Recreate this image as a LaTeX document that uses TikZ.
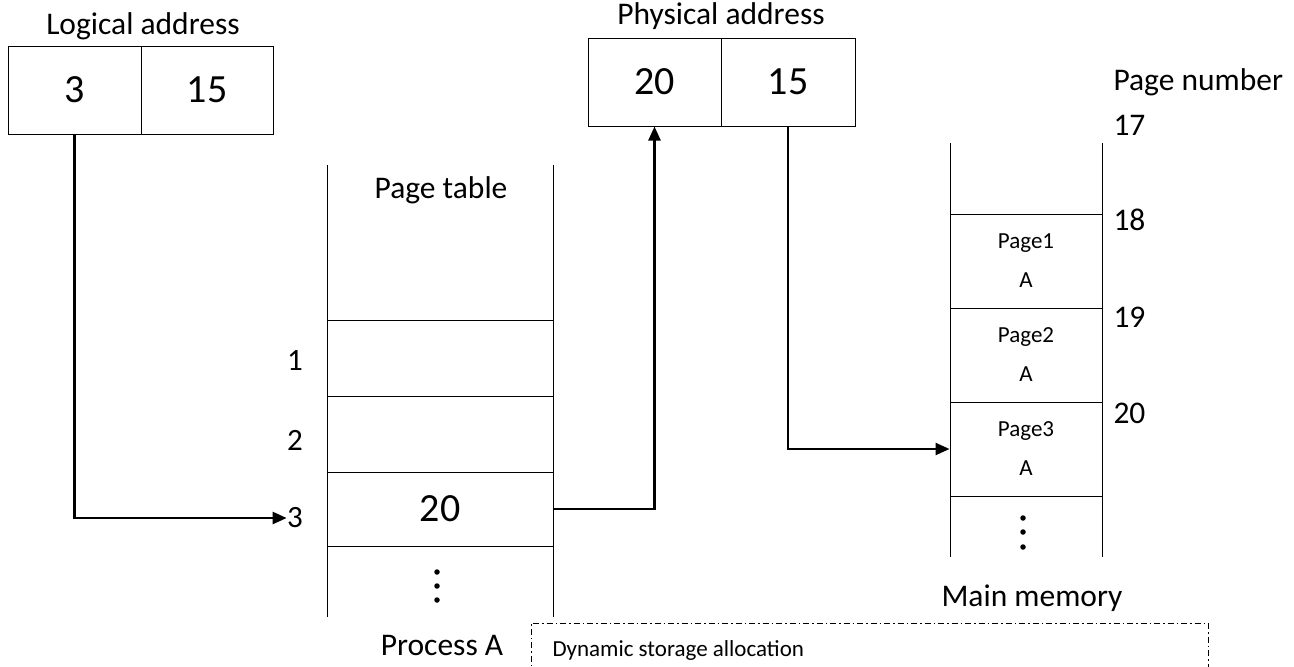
\documentclass[tikz,border=0pt]{standalone}
\usepackage{fontspec}
\setmainfont{Carlito}
\usetikzlibrary{arrows.meta}
\begin{document}
\begin{tikzpicture}[x=1pt,y=-1pt,
  line width=1pt,
  title/.style={font=\fontsize{31.5}{34}\selectfont, inner sep=0pt},
  big/.style={font=\fontsize{40}{44}\selectfont, inner sep=0pt},
  rowlab/.style={font=\fontsize{31}{34}\selectfont, inner sep=0pt},
  small/.style={font=\fontsize{23}{39}\selectfont, inner sep=0pt, align=center},
  addrcell/.style={draw, minimum height=88pt, inner sep=0pt, big},
  tcell/.style={draw, minimum width=226pt, inner sep=0pt, big},
  mcell/.style={draw, minimum width=152pt, minimum height=94pt, inner sep=0pt, small},
  link/.style={line width=2.4pt, -{Triangle[length=14pt,width=12pt]}},
  ddot/.style={fill, circle, inner sep=0pt, minimum size=5.5pt},
]
\useasboundingbox (0,0) rectangle (1294,667);

% logical address
\node[title] (latitle) at (143,26) {Logical address};
\node[addrcell, minimum width=133pt] (la3) at (74.5,90) {3};
\node[addrcell, minimum width=132pt] (la15) at (207,90) {15};

% physical address
\node[title] (patitle) at (721,16) {Physical address};
\node[addrcell, minimum width=133pt] (pa20) at (654.5,82) {20};
\node[addrcell, minimum width=134pt] (pa15) at (788,82) {15};

% page table
\coordinate (ptlt) at (327,165);
\coordinate (ptlb) at (327,617);
\coordinate (ptrt) at (553,165);
\coordinate (ptrb) at (553,617);
\draw (ptlt) -- (ptlb);
\draw (ptrt) -- (ptrb);
\node[title] (pttitle) at (441,190) {Page table};
\node[tcell, minimum height=76pt] (pt1) at (440,358) {};
\node[tcell, minimum height=76pt] (pt2) at (440,434) {};
\node[tcell, minimum height=74pt] (pt3) at (440,509) {20};
\node[rowlab] (r1) at (295,361) {1};
\node[rowlab] (r2) at (295,440) {2};
\node[rowlab] (r3) at (295,518) {3};
\node[ddot] (ptd1) at (437,572) {};
\node[ddot] (ptd2) at (437,586) {};
\node[ddot] (ptd3) at (437,600) {};
\node[title] (proc) at (442,646) {Process A};

% main memory
\coordinate (mlt) at (950,143);
\coordinate (mlb) at (950,557);
\coordinate (mrt) at (1102,143);
\coordinate (mrb) at (1102,557);
\draw (mlt) -- (mlb);
\draw (mrt) -- (mrb);
\node[mcell] (m1) at (1026,261) {Page1\\A};
\node[mcell] (m2) at (1026,355) {Page2\\A};
\node[mcell] (m3) at (1026,449) {Page3\\A};
\node[ddot] (md1) at (1023,518) {};
\node[ddot] (md2) at (1023,532) {};
\node[ddot] (md3) at (1023,547) {};
\node[title, anchor=west] (pn) at (1113,82) {Page number};
\node[title, anchor=west] (n17) at (1113,125) {17};
\node[title, anchor=west] (n18) at (1113,220) {18};
\node[title, anchor=west] (n19) at (1113,317) {19};
\node[title, anchor=west] (n20) at (1113,413) {20};
\node[title] (mm) at (1032,598) {Main memory};

% dash-dot frame running off the bottom edge
\draw[line width=0.8pt, dash pattern=on 6pt off 3pt on 1.5pt off 3pt]
  (531,675) -- (531,623) -- (1208,623) -- (1208,675);
\node[font=\fontsize{23}{26}\selectfont, inner sep=0pt, anchor=west] (dsa) at (552,650) {Dynamic storage allocation};

% translation path
\draw[link] (la3.south) |- (r3.west);
\draw[link] (pt3.east) -| (pa20.south);
\draw[link] (pa15.south) |- (m3.west);
\end{tikzpicture}
\end{document}
